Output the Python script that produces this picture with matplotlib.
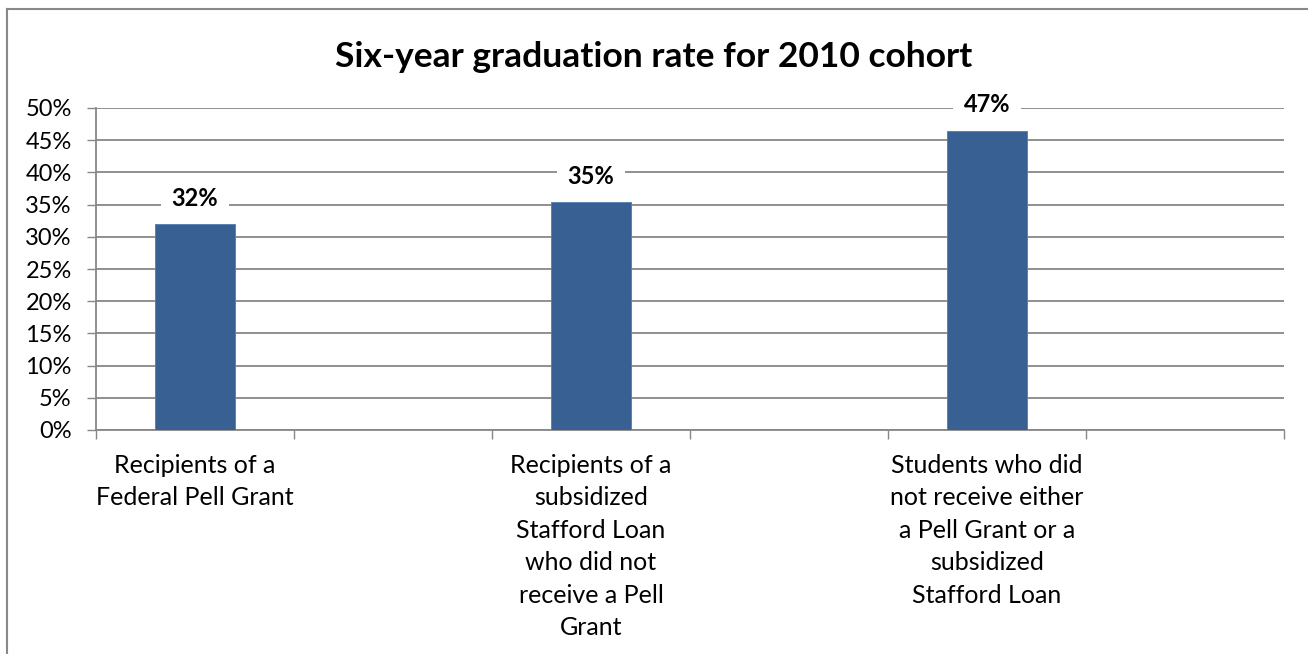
import numpy as np
import matplotlib
matplotlib.use("Agg")
import matplotlib.pyplot as plt
from matplotlib.lines import Line2D
from matplotlib.ticker import FixedLocator, MultipleLocator, FuncFormatter

# six category slots, only every other one carries a bar
categories = [
    "Recipients of a\nFederal Pell Grant",
    "",
    "Recipients of a\nsubsidized\nStafford Loan\nwho did not\nreceive a Pell\nGrant",
    "",
    "Students who did\nnot receive either\na Pell Grant or a\nsubsidized\nStafford Loan",
    "",
]
rates = [32.0, np.nan, 35.4, np.nan, 46.5, np.nan]
rate_labels = ["32%", "", "35%", "", "47%", ""]

title = "Six-year graduation rate for 2010 cohort"

plt.rcParams['font.family'] = ['Lato', 'DejaVu Sans']

fig = plt.figure(figsize=(13.08, 6.54), dpi=100)
ax = fig.add_axes([96 / 1308, 1 - 430 / 654, (1284 - 96) / 1308, (430 - 108) / 654])

x = np.arange(len(categories))
grid_col = '#878787'

ax.bar(x, rates, width=0.4, color='#386092', edgecolor='#4f7bb0', linewidth=0.6, zorder=3)

# data labels with white boxes over the gridlines
for xi, v, lab in zip(x, rates, rate_labels):
    if lab:
        ax.annotate(lab, (xi, v), xytext=(0, 18.5), textcoords='offset points',
                    ha='center', va='center', fontsize=17, fontweight='bold',
                    bbox=dict(facecolor='white', edgecolor='none', pad=8), zorder=4)

ax.set_xlim(-0.5, len(categories) - 0.5)
ax.set_ylim(0, 50)
ax.yaxis.set_major_locator(MultipleLocator(5))
ax.yaxis.set_major_formatter(FuncFormatter(lambda v, p: f"{v:.0f}%"))
ax.grid(axis='y', color=grid_col, linewidth=1.3, zorder=0)
ax.set_axisbelow(True)

# category boundaries as major ticks, names as minor ticks
ax.xaxis.set_major_locator(FixedLocator(np.arange(len(categories) + 1) - 0.5))
ax.xaxis.set_major_formatter(FuncFormatter(lambda v, p: ""))
ax.xaxis.set_minor_locator(FixedLocator(x))
ax.set_xticklabels(categories, minor=True, fontsize=18, linespacing=1.5)
ax.tick_params(axis='x', which='major', length=6.5, width=1, color=grid_col, direction='out')
ax.tick_params(axis='x', which='minor', length=0, pad=17)
ax.tick_params(axis='y', length=6.5, width=1, color=grid_col, labelsize=17, pad=11)

for s in ['top', 'right']:
    ax.spines[s].set_visible(False)
for s in ['left', 'bottom']:
    ax.spines[s].set_color(grid_col)
    ax.spines[s].set_linewidth(1.3)

fig.text(0.5, 1 - 57 / 654, title, ha='center', va='center', fontsize=25.5, fontweight='bold')

# outer chart frame (only left and top visible)
fig.add_artist(Line2D([7 / 1308, 7 / 1308], [0, 1 - 9 / 654], transform=fig.transFigure,
                      color='#888888', linewidth=1.5))
fig.add_artist(Line2D([7 / 1308, 1], [1 - 9 / 654, 1 - 9 / 654], transform=fig.transFigure,
                      color='#888888', linewidth=1.5))

fig.savefig('out.png', dpi=100, facecolor='white')
